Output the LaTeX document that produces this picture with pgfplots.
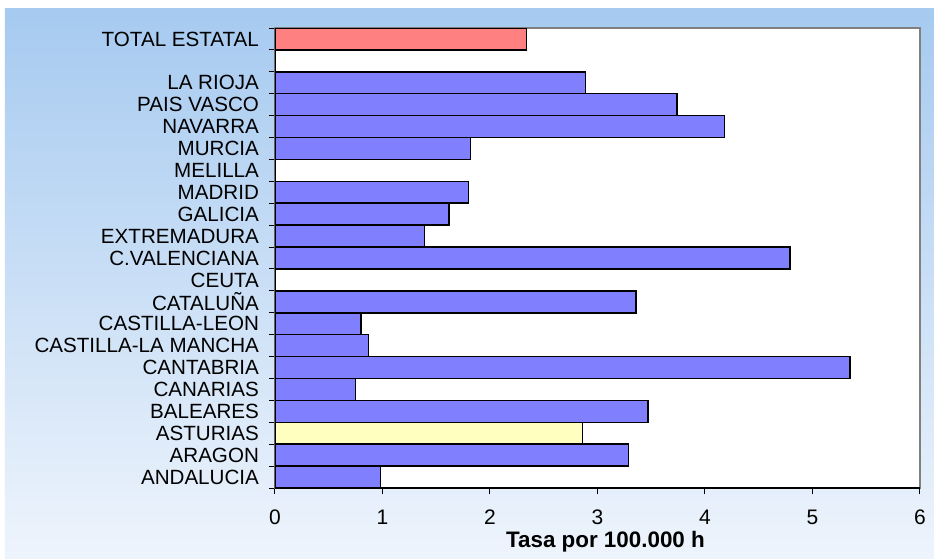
\documentclass[border=0pt]{standalone}
\usepackage{fontspec}
\setmainfont{Liberation Sans}
\usepackage{pgfplots}
\pgfplotsset{compat=1.18}
\definecolor{barblue}{HTML}{8080FF}
\definecolor{barred}{HTML}{FF8080}
\definecolor{baryellow}{HTML}{FFFFC0}
\definecolor{bgtop}{HTML}{A6CAF0}
\definecolor{bgbot}{HTML}{EEF4FC}
\definecolor{framegray}{HTML}{808080}

\begin{document}
\begin{tikzpicture}
\path[use as bounding box, fill=white] (-137.5pt,-35.5pt) rectangle (329.5pt,244pt);
\shade[top color=bgtop, bottom color=bgbot] (-135pt,-35pt) rectangle (329.5pt,240pt);
\begin{axis}[
    at={(0pt,0pt)}, anchor=south west,
    scale only axis, width=322.5pt, height=230pt,
    xbar, bar width=1,
    xmin=0, xmax=6, ymin=-0.5, ymax=20.5,
    xtick={0,1,2,3,4,5,6},
    ytick={-0.5,0.5,1.5,2.5,3.5,4.5,5.5,6.5,7.5,8.5,9.5,10.5,11.5,12.5,13.5,14.5,15.5,16.5,17.5,18.5,19.5,20.5},
    y tick label as interval,
    yticklabels={ANDALUCIA,ARAGON,ASTURIAS,BALEARES,CANARIAS,CANTABRIA,CASTILLA-LA MANCHA,CASTILLA-LEON,CATALUÑA,CEUTA,C.VALENCIANA,EXTREMADURA,GALICIA,MADRID,MELILLA,MURCIA,NAVARRA,PAIS VASCO,LA RIOJA,{},TOTAL ESTATAL},
    tick align=outside, major tick length=3pt, tick pos=left,
    tick style={black, line width=0.5pt},
    axis line style={framegray, line width=0.9pt},
    axis background/.style={fill=white},
    font=\fontsize{10.3}{11}\selectfont,
    /pgf/number format/assume math mode=true,
    xticklabel style={yshift=-4.5pt, font=\fontsize{10.5}{11}\selectfont},
    yticklabel style={xshift=-1.5pt},
    xlabel={\fontsize{11.2}{12}\selectfont\bfseries Tasa por 100.000 h},
    xlabel style={yshift=3.5pt, xshift=4pt},
]
\addplot[bar shift=0pt, fill=barblue, draw=black, line width=0.75pt] coordinates {
    (0.98,0) (3.29,1) (3.47,3) (0.75,4) (5.35,5) (0.87,6) (0.80,7) (3.36,8)
    (4.79,10) (1.39,11) (1.62,12) (1.80,13) (1.82,15) (4.18,16) (3.74,17) (2.89,18)
};
\addplot[bar shift=0pt, fill=baryellow, draw=black, line width=0.75pt] coordinates {(2.86,2)};
\addplot[bar shift=0pt, fill=barred, draw=black, line width=0.75pt] coordinates {(2.34,20)};
\draw[black, line width=0.8pt] (rel axis cs:0,1) -- (rel axis cs:0,0) -- (rel axis cs:1,0);
\end{axis}
\end{tikzpicture}
\end{document}
